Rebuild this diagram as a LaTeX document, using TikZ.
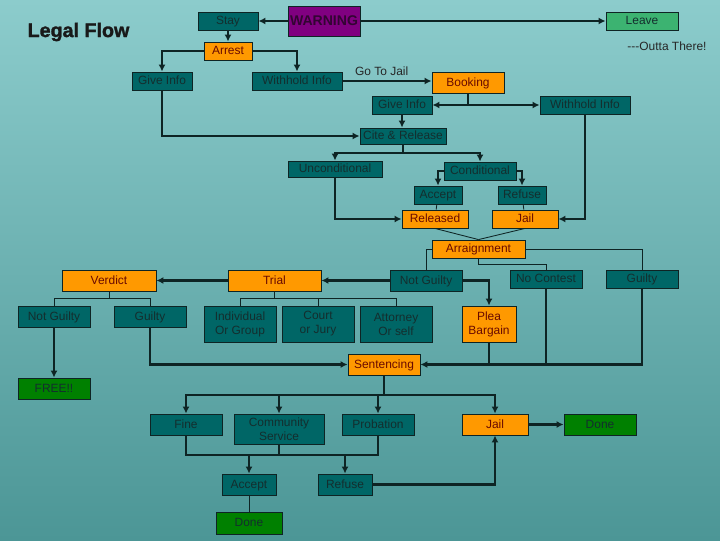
\documentclass[tikz,border=0pt]{standalone}
\usepackage{fontspec}
\setmainfont{Liberation Sans}
\newfontfamily\titlefont[BoldFeatures={FakeBold=1.5}]{Liberation Sans}
\usetikzlibrary{arrows.meta}
\definecolor{bgtop}{RGB}{140,204,204}
\definecolor{bgbottom}{RGB}{76,150,150}
\definecolor{tealbox}{RGB}{0,102,102}
\definecolor{orangebox}{RGB}{255,153,0}
\definecolor{greenbox}{RGB}{0,128,0}
\definecolor{leavegreen}{RGB}{60,179,113}
\definecolor{warnpurple}{RGB}{128,0,128}
\definecolor{wire}{RGB}{14,36,36}
\definecolor{tealtext}{RGB}{20,46,46}
\definecolor{orangetext}{RGB}{105,10,0}
\definecolor{warntext}{RGB}{50,5,50}

\begin{document}
\begin{tikzpicture}[x=0.025cm, y=-0.025cm,
  box/.style={draw=wire, line width=0.6pt, inner sep=0pt, text height=6.2pt, text depth=1pt, minimum width=1.8cm, minimum height=0.45cm, font=\fontsize{8.5}{10}\selectfont},
  twoline/.style={align=center, text height={}, text depth={}},
  tealnode/.style={box, fill=tealbox, text=tealtext},
  orangenode/.style={box, fill=orangebox, text=orangetext},
  greennode/.style={box, fill=greenbox, text=tealtext},
  flow/.style={draw=wire, line width=1.5pt, -{Latex[length=5pt,width=5pt]}},
  link/.style={draw=wire, line width=1.5pt},
  thinlink/.style={draw=wire, line width=0.6pt},
  plain/.style={font=\fontsize{8.5}{10}\selectfont, text=black!85}
]
\shade[top color=bgtop, bottom color=bgbottom] (0,0) rectangle (720,540);
\useasboundingbox (0,0) rectangle (720,540);

\node[font=\titlefont\fontsize{14}{16}\selectfont\bfseries, text=black!90] (title) at (78.5,32) {Legal Flow};
\node[tealnode, minimum width=1.5cm] (stay) at (228,21) {Stay};
\node[box, fill=warnpurple, text=warntext, minimum height=0.75cm, text height=7.2pt, font=\fontsize{10}{12}\selectfont\bfseries] (warning) at (324,21) {WARNING};
\node[box, fill=leavegreen, text=tealtext] (leave) at (642,21) {Leave};
\node[plain] (outta) at (667,46) {{-}{-}{-}Outta There!};
\node[orangenode, minimum width=1.2cm] (arrest) at (228,51) {Arrest};
\node[tealnode, minimum width=1.5cm] (giveleft) at (162,81) {Give Info};
\node[tealnode, minimum width=2.25cm] (withleft) at (297,81) {Withhold Info};
\node[orangenode, minimum height=0.525cm] (booking) at (468,82.5) {Booking};
\node[tealnode, minimum width=1.5cm] (giveright) at (402,105) {Give Info};
\node[tealnode, minimum width=2.25cm] (withright) at (585,105) {Withhold Info};
\node[tealnode, minimum width=2.15cm, minimum height=0.4cm] (cite) at (403,136) {Cite \& Release};
\node[tealnode, minimum width=2.35cm, minimum height=0.4cm] (uncond) at (335,169) {Unconditional};
\node[tealnode] (cond) at (480,171) {Conditional};
\node[tealnode, minimum width=1.2cm] (acceptmid) at (438,195) {Accept};
\node[tealnode, minimum width=1.2cm] (refusemid) at (522,195) {Refuse};
\node[orangenode, minimum width=1.65cm] (released) at (435,219) {Released};
\node[orangenode, minimum width=1.65cm] (jailmid) at (525,219) {Jail};
\node[orangenode, minimum width=2.325cm] (arraign) at (478.5,249) {Arraignment};
\node[orangenode, minimum width=2.35cm, minimum height=0.525cm] (verdict) at (109,280.5) {Verdict};
\node[orangenode, minimum width=2.325cm, minimum height=0.525cm] (trial) at (274.5,280.5) {Trial};
\node[tealnode, minimum height=0.525cm] (ngmid) at (426,280.5) {Not Guilty};
\node[tealnode] (nocontest) at (546,279) {No Contest};
\node[tealnode] (guiltyright) at (642,279) {Guilty};
\node[tealnode, minimum height=0.525cm] (ngleft) at (54,316.5) {Not Guilty};
\node[tealnode, minimum height=0.525cm] (guiltyleft) at (150,316.5) {Guilty};
\node[tealnode, twoline, minimum height=0.9cm] (indiv) at (240,324) {Individual\\Or Group};
\node[tealnode, twoline, minimum height=0.9cm] (court) at (318,324) {Court\\or Jury};
\node[tealnode, twoline, minimum height=0.9cm] (attorney) at (396,324) {Attorney\\Or self};
\node[orangenode, twoline, minimum width=1.35cm, minimum height=0.9cm] (plea) at (489,324) {Plea\\Bargain};
\node[orangenode, minimum height=0.525cm] (sentencing) at (384,364.5) {Sentencing};
\node[greennode, minimum height=0.525cm] (free) at (54,388.5) {FREE!!};
\node[tealnode, minimum height=0.525cm] (fine) at (186,424.5) {Fine};
\node[tealnode, twoline, minimum width=2.25cm, minimum height=0.75cm] (commserv) at (279,429) {Community\\Service};
\node[tealnode, minimum height=0.525cm] (probation) at (378,424.5) {Probation};
\node[orangenode, minimum width=1.65cm, minimum height=0.525cm] (jailbottom) at (495,424.5) {Jail};
\node[greennode, minimum height=0.525cm] (doneright) at (600,424.5) {Done};
\node[tealnode, minimum width=1.35cm, minimum height=0.525cm] (acceptbottom) at (249,484.5) {Accept};
\node[tealnode, minimum width=1.35cm, minimum height=0.525cm] (refusebottom) at (345,484.5) {Refuse};
\node[greennode, minimum width=1.65cm, minimum height=0.55cm] (donebottom) at (249,523) {Done};

% bus points
\coordinate (citebus) at (403,153);
\coordinate (arraignbus) at (478.5,264);
\coordinate (trialbus) at (274.5,298);
\coordinate (verdictbus) at (109,298);
\coordinate (sentbus) at (384,395);
\coordinate (penbus) at (282,455);

% arrest
\draw[flow] (warning) -- (stay);
\draw[flow] (warning) -- (leave);
\draw[flow] (stay) -- (arrest);
\draw[flow] (arrest.west) -| (giveleft.north);
\draw[flow] (arrest.east) -| (withleft.north);
\draw[flow] (withleft.east) -- node[plain, above, pos=0.44] {Go To Jail} (withleft.east -| booking.west);
\draw[flow] (giveleft.south) |- (cite.west);
\draw[flow] (booking.south) |- (giveright.east);
\draw[flow] (booking.south) |- (withright.west);
\draw[flow] (giveright.south) -- (giveright.south |- cite.north);

% release
\draw[link] (cite.south) -- (citebus);
\draw[flow] (citebus) -| (uncond.north);
\draw[flow] (citebus) -| (cond.north);
\draw[flow] (cond.west) -| (acceptmid.north);
\draw[flow] (cond.east) -| (refusemid.north);
\draw[flow] (uncond.south) |- (released.west);
\draw[thinlink] (acceptmid) -- (released);
\draw[thinlink] (refusemid) -- (jailmid);
\draw[flow] (withright.south) |- (jailmid.east);
\draw[thinlink] (released.south) -- (arraign.north);
\draw[thinlink] (jailmid.south) -- (arraign.north);

% court
\draw[thinlink] (arraign.west) -| (ngmid.north);
\draw[thinlink] (arraign.south) -- (arraignbus) -| (nocontest.north);
\draw[thinlink] (arraign.east) -| (guiltyright.north);
\draw[flow] (ngmid) -- (trial);
\draw[flow] (ngmid.east) -| (plea.north);
\draw[flow] (trial) -- (verdict);
\draw[thinlink] (trial.south) -- (trialbus);
\draw[thinlink] (trialbus) -| (indiv.north);
\draw[thinlink] (trialbus) -| (court.north);
\draw[thinlink] (trialbus) -| (attorney.north);
\draw[thinlink] (verdict.south) -- (verdictbus);
\draw[thinlink] (verdictbus) -| (ngleft.north);
\draw[thinlink] (verdictbus) -| (guiltyleft.north);
\draw[flow] (ngleft) -- (free);
\draw[flow] (guiltyleft.south) |- (sentencing.west);
\draw[flow] (guiltyright.south) |- (sentencing.east);
\draw[link] (plea.south) -- (plea.south |- sentencing.east);
\draw[link] (nocontest.south) -- (nocontest.south |- sentencing.east);

% sentence
\draw[link] (sentencing.south) -- (sentbus);
\draw[flow] (sentbus) -| (fine.north);
\draw[flow] (sentbus) -| (commserv.north);
\draw[flow] (sentbus) -| (probation.north);
\draw[flow] (sentbus) -| (jailbottom.north);
\draw[link] (fine.south) |- (probation.south |- penbus) -- (probation.south);
\draw[link] (commserv.south) -- (commserv.south |- penbus);
\draw[flow] (acceptbottom.north |- penbus) -- (acceptbottom.north);
\draw[flow] (refusebottom.north |- penbus) -- (refusebottom.north);
\draw[flow] (refusebottom.east) -| (jailbottom.south);
\draw[flow] (jailbottom) -- (doneright);
\draw[thinlink] (acceptbottom) -- (donebottom);
\end{tikzpicture}
\end{document}
